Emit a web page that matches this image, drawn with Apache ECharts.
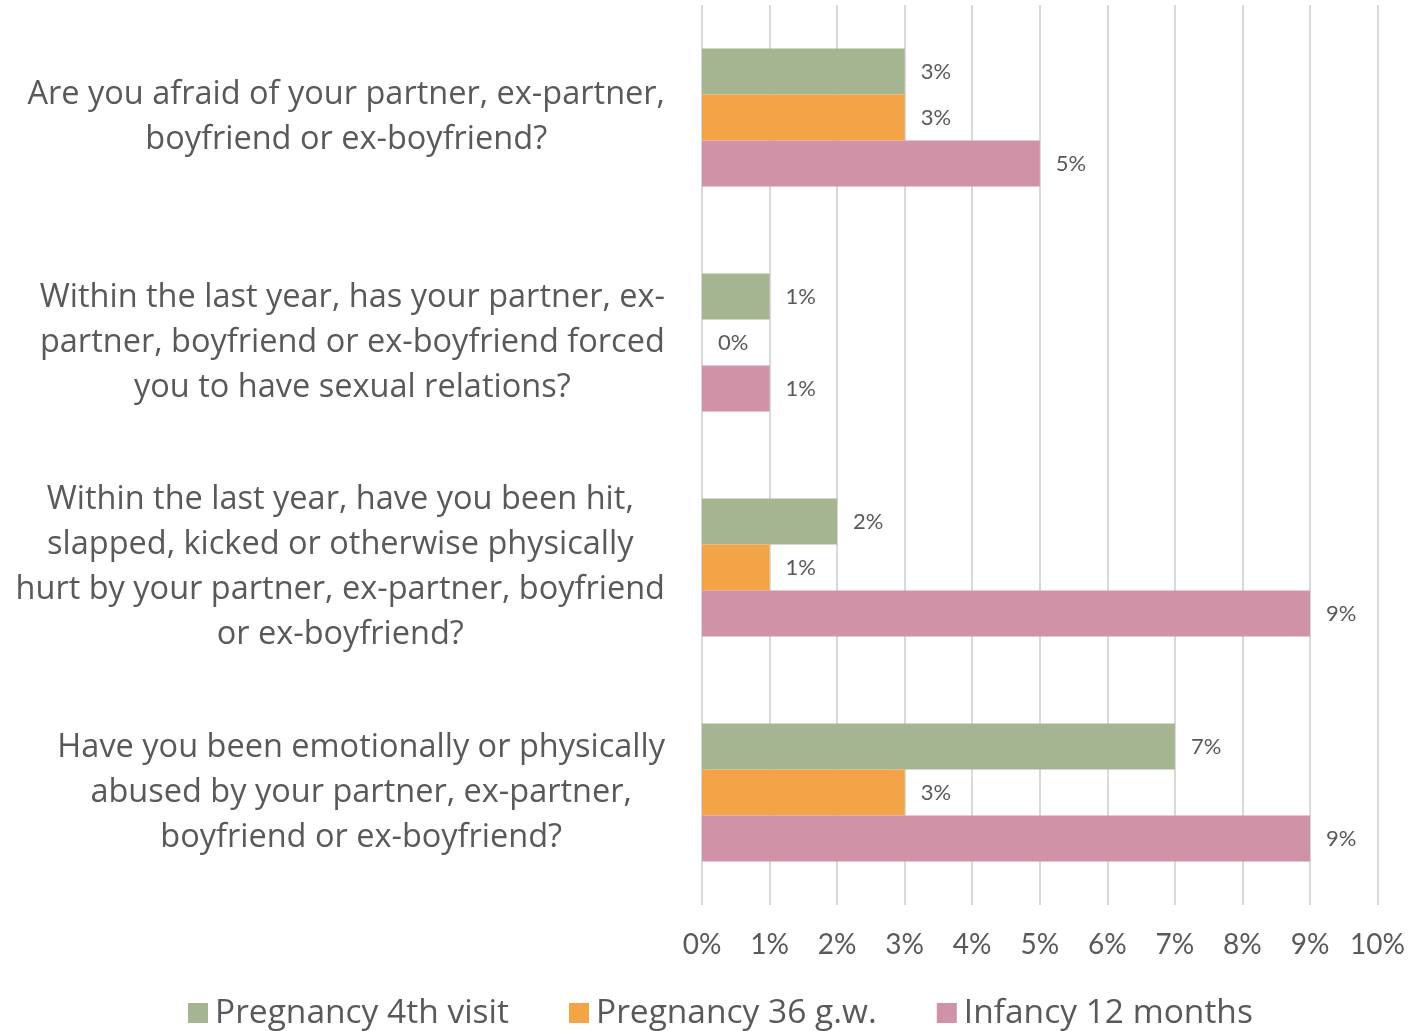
<!DOCTYPE html>
<html>
<head>
<meta charset="utf-8">
<style>
  html, body { margin: 0; padding: 0; background: #fff; }
  #chart { width: 1408px; height: 1031px; }
</style>
<script src="https://cdn.jsdelivr.net/npm/echarts@6/dist/echarts.min.js"></script>
</head>
<body>
<div id="chart"></div>
<script>
// Survey questions (top to bottom), one line per array entry
const questions = [
  ['Are you afraid of your partner, ex-partner,', 'boyfriend or ex-boyfriend?'],
  ['Within the last year, has your partner, ex-', 'partner, boyfriend or ex-boyfriend forced', 'you to have sexual relations?'],
  ['Within the last year, have you been hit,', 'slapped, kicked or otherwise physically', 'hurt by your partner, ex-partner, boyfriend', 'or ex-boyfriend?'],
  ['Have you been emotionally or physically', 'abused by your partner, ex-partner,', 'boyfriend or ex-boyfriend?']
];

const seriesNames = ['Pregnancy 4th visit', 'Pregnancy 36 g.w.', 'Infancy 12 months'];

// Percent of respondents answering yes
const pregnancy4thVisit = [3, 1, 2, 7];
const pregnancy36gw = [3, 0, 1, 3];
const infancy12months = [5, 1, 9, 9];

const seriesColors = ['#A5B592', '#F2A446', '#D092A7'];

const FONT = 'Lato';
const WIDE_FONT = 'Open Sans';
const TEXT = '#595959';

const categories = questions.map(lines => lines.join('\n'));

const chart = echarts.init(document.getElementById('chart'));

function barSeries(name, data, color) {
  return {
    name: name,
    type: 'bar',
    data: data,
    barWidth: 46,
    barGap: '0%',
    itemStyle: { color: color },
    label: {
      show: true,
      position: 'right',
      distance: 16,
      formatter: '{c}%',
      fontFamily: FONT,
      fontSize: 22,
      color: TEXT
    }
  };
}

chart.setOption({
  animation: false,
  textStyle: { fontFamily: FONT },
  legend: {
    bottom: -4,
    left: 183,
    itemWidth: 20,
    itemHeight: 20,
    itemGap: 60,
    icon: 'rect',
    textStyle: { fontFamily: WIDE_FONT, fontSize: 33.5, color: TEXT, padding: [0, 0, 0, 2] },
    data: seriesNames
  },
  grid: {
    left: 702,
    right: 30,
    top: 5,
    bottom: 126,
    containLabel: false
  },
  xAxis: {
    type: 'value',
    min: 0,
    max: 10,
    interval: 1,
    axisLine: { show: false },
    axisTick: { show: false },
    splitLine: { show: true, lineStyle: { color: '#D9D9D9', width: 2 } },
    axisLabel: {
      formatter: '{value}%',
      fontFamily: FONT,
      fontSize: 28,
      color: TEXT,
      margin: 26
    }
  },
  yAxis: {
    type: 'category',
    inverse: true,
    data: categories,
    axisLine: { show: false },
    axisTick: { show: false },
    axisLabel: {
      margin: 37,
      formatter: function (value) {
        return value.split('\n').map(l => '{q|' + l + '}').join('\n');
      },
      rich: {
        q: {
          align: 'center',
          fontFamily: WIDE_FONT,
          fontSize: 32.5,
          lineHeight: 45,
          color: TEXT
        }
      }
    }
  },
  series: [
    barSeries(seriesNames[0], pregnancy4thVisit, seriesColors[0]),
    barSeries(seriesNames[1], pregnancy36gw, seriesColors[1]),
    barSeries(seriesNames[2], infancy12months, seriesColors[2])
  ]
});
</script>
</body>
</html>
